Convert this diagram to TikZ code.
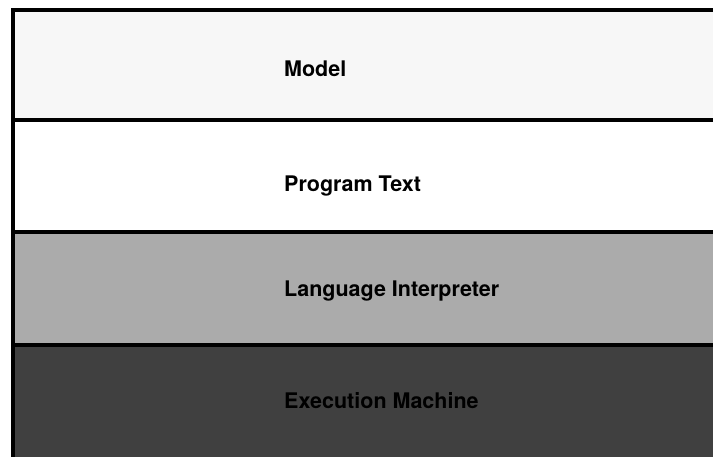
\documentclass[tikz,border=0pt]{standalone}
\usepackage{fontspec}
\setmainfont{TeX Gyre Heros}
\begin{document}
\begin{tikzpicture}[x=1pt,y=1pt,
  frameline/.style={line width=4pt},
  divider/.style={line width=4.5pt},
  layerlabel/.style={anchor=base west, inner sep=0pt,
    font=\bfseries\fontsize{21.5}{26}\selectfont}]
\useasboundingbox (0,0) rectangle (713,456);
\begin{scope}
  \clip (0,0) rectangle (713,456);
  % the four layers, top to bottom
  \fill[black!3]  (13,446) rectangle (720,336);
  \fill[white]    (13,336) rectangle (720,224);
  \fill[black!33] (13,224) rectangle (720,111);
  \fill[black!75] (13,111) rectangle (720,-10);
  % outer frame and the lines between layers
  \draw[frameline] (720,446) -- (13,446) -- (13,-10);
  \draw[divider] (13,336) -- (720,336);
  \draw[divider] (13,224) -- (720,224);
  \draw[divider] (13,111) -- (720,111);
\end{scope}
\node[layerlabel] (model)   at (284,379) {Model};
\node[layerlabel] (program) at (284,264) {Program Text};
\node[layerlabel] (interp)  at (284,160) {Language Interpreter};
\node[layerlabel] (machine) at (284,48)  {Execution Machine};
\end{tikzpicture}
\end{document}
